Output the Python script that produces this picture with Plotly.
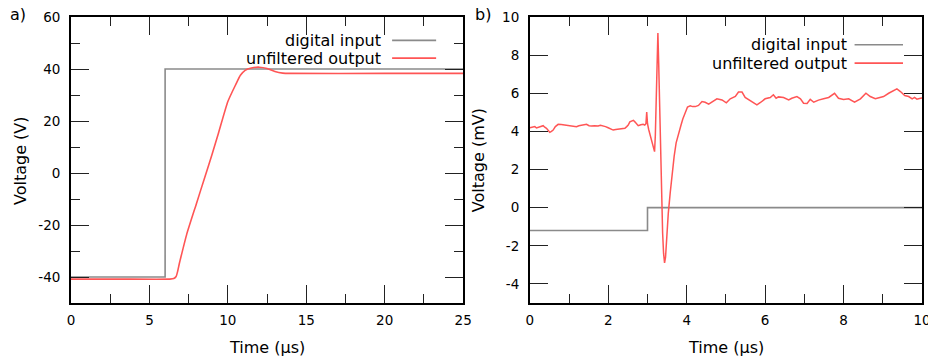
import plotly.graph_objects as go

# ---------------- data ----------------
# panel a) : step response
a_input_t = [0, 6, 25]
a_input_v = [-40, 40, 40]

a_output_t = [0, 3, 6.3, 6.55, 6.7, 6.8, 6.9, 7.0, 7.38, 8.0, 8.5, 9.0, 9.4, 10.0,
              10.5, 10.8, 11.1, 11.5, 12.0, 12.5, 13.0, 13.5, 14.0, 20, 25]
a_output_v = [-40.8, -40.8, -40.8, -40.6, -39.8, -37.8, -35.0, -32.5, -23.5, -11.7,
              -2.2, 7.3, 15.3, 27.5, 34.0, 37.6, 39.5, 40.4, 40.7, 40.2, 39.0, 38.4,
              38.3, 38.3, 38.3]

# panel b) : small-signal view
b_input_t = [0, 3, 10]
b_input_v = [-1.2, 0, 0]

b_output_t = [0.0, 0.06, 0.127, 0.17, 0.212, 0.27, 0.339, 0.38, 0.424, 0.47, 0.509,
              0.55, 0.594, 0.65, 0.722, 0.8, 0.892, 0.98, 1.062, 1.12, 1.19, 1.25,
              1.317, 1.38, 1.445, 1.51, 1.572, 1.65, 1.742, 1.8, 1.87, 1.93, 1.997,
              2.06, 2.125, 2.19, 2.253, 2.34, 2.423, 2.47, 2.508, 2.55, 2.593, 2.64,
              2.678, 2.72, 2.763, 2.83, 2.89, 2.93, 2.96, 2.98, 3.0, 3.03, 3.07, 3.11,
              3.15, 3.18, 3.2, 3.225, 3.245, 3.265, 3.285, 3.31, 3.335, 3.36, 3.385,
              3.41, 3.435, 3.46, 3.49, 3.53, 3.58, 3.63, 3.68, 3.73, 3.79, 3.85, 3.9,
              3.96, 4.02, 4.09, 4.15, 4.22, 4.3, 4.39, 4.47, 4.56, 4.64, 4.77, 4.9,
              5.01, 5.11, 5.24, 5.32, 5.41, 5.49, 5.62, 5.7, 5.79, 5.89, 6.0, 6.13,
              6.21, 6.28, 6.34, 6.47, 6.6, 6.68, 6.81, 6.9, 6.98, 7.07, 7.15, 7.24,
              7.36, 7.49, 7.62, 7.77, 7.87, 8.0, 8.13, 8.28, 8.43, 8.57, 8.68, 8.81,
              8.94, 9.02, 9.15, 9.28, 9.36, 9.45, 9.56, 9.66, 9.75, 9.81, 9.87, 9.96,
              10.0]
b_output_v = [4.19, 4.22, 4.25, 4.18, 4.22, 4.27, 4.3, 4.22, 4.16, 4.05, 3.95,
              4.0, 4.07, 4.25, 4.37, 4.36, 4.33, 4.3, 4.3, 4.26, 4.25, 4.3,
              4.33, 4.36, 4.37, 4.3, 4.28, 4.3, 4.28, 4.32, 4.3, 4.25, 4.19,
              4.12, 4.07, 4.1, 4.12, 4.12, 4.16, 4.25, 4.33, 4.5, 4.56, 4.58,
              4.5, 4.4, 4.3, 4.35, 4.37, 4.33, 4.4, 5.02, 4.4, 4.1, 3.8, 3.46,
              3.1, 2.94, 3.8, 5.6, 7.8, 9.16, 7.6, 5.0, 2.8, 0.3, -1.3,
              -2.4, -2.9, -2.6, -1.4, -0.3, 0.8, 1.8, 2.7, 3.4, 3.9, 4.3, 4.65,
              5.0, 5.28, 5.34, 5.3, 5.3, 5.36, 5.57, 5.53, 5.43, 5.53, 5.71, 5.65,
              5.5, 5.71, 5.83, 6.06, 6.06, 5.78, 5.6, 5.48, 5.39, 5.53, 5.71, 5.78,
              5.92, 5.74, 5.81, 5.78, 5.65, 5.74, 5.83, 5.71, 5.48, 5.46, 5.68, 5.53,
              5.64, 5.71, 5.78, 6.0, 5.74, 5.67, 5.71, 5.53, 5.71, 6.0, 5.83, 5.71,
              5.78, 5.83, 6.0, 6.13, 6.23, 6.09, 5.88, 5.83, 5.71, 5.78, 5.69, 5.74,
              5.75]

# tick labels (plain hyphen minus, as in the reference)
a_x_ticks = [0, 5, 10, 15, 20, 25]
a_x_labels = ["0", "5", "10", "15", "20", "25"]
a_y_ticks = [-40, -20, 0, 20, 40, 60]
a_y_labels = ["-40", "-20", "0", "20", "40", "60"]
b_x_ticks = [0, 2, 4, 6, 8, 10]
b_x_labels = ["0", "2", "4", "6", "8", "10"]
b_y_ticks = [-4, -2, 0, 2, 4, 6, 8, 10]
b_y_labels = ["-4", "-2", "0", "2", "4", "6", "8", "10"]

legend_labels = ["digital input", "unfiltered output"]
x_title = "Time (μs)"
a_y_title = "Voltage (V)"
b_y_title = "Voltage (mV)"

# ---------------- style ----------------
GRAY = "#8a8a8a"
RED = "#ff5555"
FONT = "DejaVu Sans"
W, H = 928, 358
ML, MR, MT, MB = 71, 6.3, 17.3, 55.3
PW, PH = W - ML - MR, H - MT - MB


def px(x):  # pixel -> paper x
    return (x - ML) / PW


def py(y):  # pixel -> paper y
    return (H - MB - y) / PH


fig = go.Figure()
fig.add_trace(go.Scatter(x=a_input_t, y=a_input_v, mode="lines", line_shape="hv",
                         line=dict(color=GRAY, width=1.6), xaxis="x", yaxis="y",
                         showlegend=False))
fig.add_trace(go.Scatter(x=a_output_t, y=a_output_v, mode="lines",
                         line=dict(color=RED, width=1.6, shape="spline", smoothing=0.5),
                         xaxis="x", yaxis="y", showlegend=False))
fig.add_trace(go.Scatter(x=b_input_t, y=b_input_v, mode="lines", line_shape="hv",
                         line=dict(color=GRAY, width=1.6), xaxis="x2", yaxis="y2",
                         showlegend=False))
fig.add_trace(go.Scatter(x=b_output_t, y=b_output_v, mode="lines",
                         line=dict(color=RED, width=1.5), xaxis="x2", yaxis="y2",
                         showlegend=False))

xdom1 = [px(71), px(463)]
xdom2 = [px(529.7), px(921.7)]

common = dict(showline=True, linecolor="black", linewidth=1.8, mirror="ticks",
              ticks="inside", ticklen=18, tickwidth=1.4, tickcolor="#222",
              showgrid=False, zeroline=False, automargin=False,
              ticklabeloverflow="allow",
              tickfont=dict(family=FONT, size=13.5, color="black"))
minor = lambda d: dict(dtick=d, tick0=0, ticklen=9, tickwidth=1.4, tickcolor="#222",
                       ticks="inside")

fig.update_layout(
    width=W, height=H, margin=dict(l=ML, r=MR, t=MT, b=MB, autoexpand=False),
    paper_bgcolor="white", plot_bgcolor="white",
    font=dict(family=FONT, size=16, color="black"),
    xaxis=dict(domain=xdom1, range=[0, 25], tickvals=a_x_ticks, ticktext=a_x_labels,
               anchor="y", minor=minor(2.5), ticklabelstandoff=4, **common),
    yaxis=dict(domain=[0, 1], range=[-50, 60], tickvals=a_y_ticks, ticktext=a_y_labels,
               anchor="x", minor=minor(10), ticklabelstandoff=6, **common),
    xaxis2=dict(domain=xdom2, range=[0, 10], tickvals=b_x_ticks, ticktext=b_x_labels,
                anchor="y2", minor=minor(1), ticklabelstandoff=4, **common),
    yaxis2=dict(domain=[0, 1], range=[-5, 10], tickvals=b_y_ticks, ticktext=b_y_labels,
                anchor="x2", ticklabelstandoff=6, **common),
)

annotations = []
shapes = []
# legends (text right-aligned, sample line to the right, gnuplot style)
legend_pos = [
    (383, 392, 436, [40.6, 58.3]),
    (848.5, 854.3, 902.7, [45.0, 63.3]),
]
for tx, lx0, lx1, ys in legend_pos:
    for label, color, yy in zip(legend_labels, [GRAY, RED], ys):
        annotations.append(dict(text=label, x=px(tx), y=py(yy), xref="paper",
                                yref="paper", xanchor="right", yanchor="middle",
                                showarrow=False, font=dict(family=FONT, size=16)))
        shapes.append(dict(type="line", x0=px(lx0), x1=px(lx1), y0=py(yy), y1=py(yy),
                           xref="paper", yref="paper",
                           line=dict(color=color, width=1.6)))

# axis titles
for xc, ytitle, xt in [(267, a_y_title, 20), (725.7, b_y_title, 478)]:
    annotations.append(dict(text=x_title, x=px(xc), y=py(347), xref="paper",
                            yref="paper", xanchor="center", yanchor="middle",
                            showarrow=False, font=dict(family=FONT, size=16)))
    annotations.append(dict(text=ytitle, x=px(xt), y=py(160), xref="paper",
                            yref="paper", xanchor="center", yanchor="middle",
                            textangle=-90, showarrow=False, font=dict(family=FONT, size=16)))

# panel labels
for lab, xl in [("a)", 18), ("b)", 483)]:
    annotations.append(dict(text=lab, x=px(xl), y=py(15), xref="paper", yref="paper",
                            xanchor="center", yanchor="middle", showarrow=False,
                            font=dict(family=FONT, size=16)))

fig.update_layout(annotations=annotations, shapes=shapes)
fig.write_html("out.html", config={"displayModeBar": False},
               post_script="document.body.style.margin='0';document.body.style.padding='0';"
                           "document.body.style.overflow='hidden';")
